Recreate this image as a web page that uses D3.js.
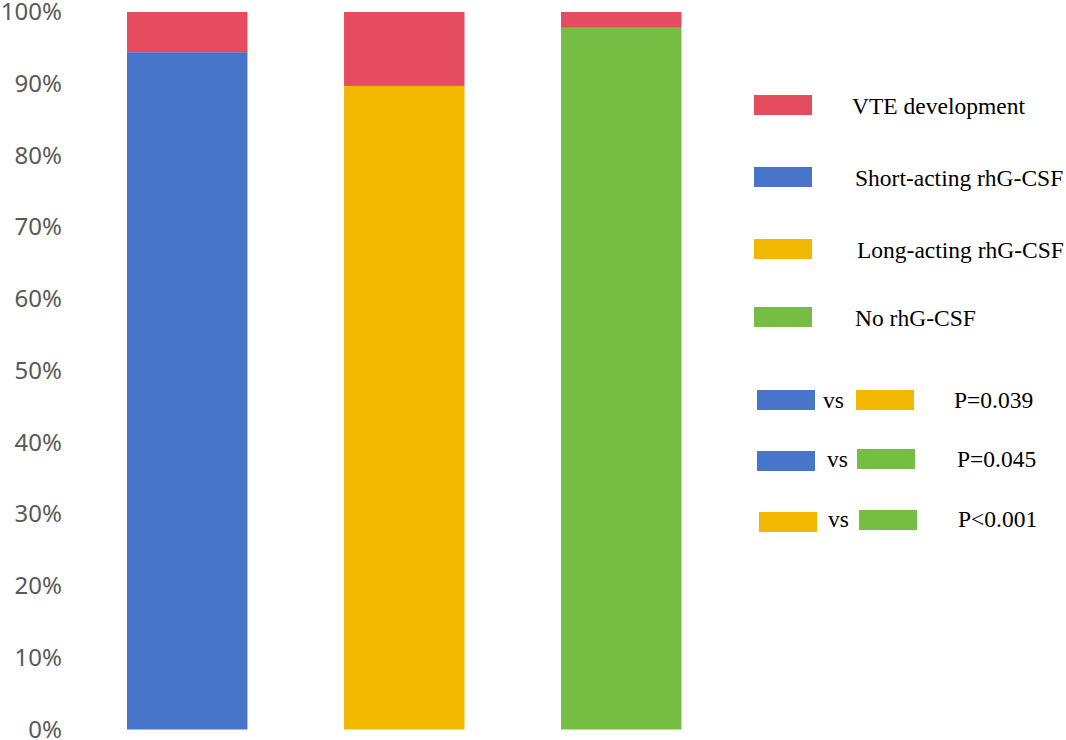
<!DOCTYPE html>
<meta charset="utf-8" />
<head>
  <script src="https://d3js.org/d3.v7.min.js"></script>
  <style>
    body { margin: 0; background: #fff; }
    svg { display: block; }
    .tick text { font-family: "Noto Sans", sans-serif; fill: #595959; }
    .legend text { font-family: "Liberation Serif", "Times New Roman", serif; fill: #000; }
  </style>
</head>
<body>
<script>

// data
var groups = ["Short-acting rhG-CSF", "Long-acting rhG-CSF", "No rhG-CSF"];
var noVte = [94.4, 89.7, 97.8];
var vte = [5.6, 10.3, 2.2];
var yTicks = [0, 10, 20, 30, 40, 50, 60, 70, 80, 90, 100];
var legendLabels = ["VTE development", "Short-acting rhG-CSF", "Long-acting rhG-CSF", "No rhG-CSF"];
var comparisons = [[0, 1], [0, 2], [1, 2]];
var pValues = ["P=0.039", "P=0.045", "P<0.001"];

var vteColor = "#E54C5F";
var groupColors = ["#4874C9", "#F2B800", "#76BD43"];

var width = 1066, height = 740;
var margin = {top: 12, left: 72, bottom: 10.5};

var svg = d3.select("body").append("svg")
    .attr("width", width)
    .attr("height", height);

var x = d3.scaleBand()
    .domain(groups)
    .range([18.5, 790])
    .paddingInner(0.445)
    .paddingOuter(0.5);

var y = d3.scaleLinear()
    .domain([0, 100])
    .range([height - margin.bottom, margin.top]);

// y axis
svg.append("g")
    .attr("transform", "translate(" + (margin.left - 4) + ",0)")
    .call(d3.axisLeft(y).tickValues(yTicks).tickSize(0).tickPadding(6)
      .tickFormat(function(d) { return d + "%"; }))
    .call(function(g) { g.select(".domain").remove(); })
    .selectAll("text")
    .style("font-size", "24px");

// stacked bars
var bars = svg.append("g");
groups.forEach(function(g, i) {
  bars.append("rect")
      .attr("x", x(g))
      .attr("width", x.bandwidth())
      .attr("y", y(noVte[i]))
      .attr("height", y(0) - y(noVte[i]))
      .attr("fill", groupColors[i]);
  bars.append("rect")
      .attr("x", x(g))
      .attr("width", x.bandwidth())
      .attr("y", y(noVte[i] + vte[i]))
      .attr("height", y(noVte[i]) - y(noVte[i] + vte[i]))
      .attr("fill", vteColor);
});

// legend
var legend = svg.append("g").attr("class", "legend");
var legendColors = [vteColor].concat(groupColors);
var legendY = [105, 177, 249, 317];
var legendTextX = [852, 855, 857, 855];
legendLabels.forEach(function(label, i) {
  legend.append("rect")
      .attr("x", 754)
      .attr("y", legendY[i] - 10)
      .attr("width", 58)
      .attr("height", 20)
      .attr("fill", legendColors[i]);
  legend.append("text")
      .attr("x", legendTextX[i])
      .attr("y", legendY[i] + 9)
      .style("font-size", "23.5px")
      .text(label);
});

// pairwise comparisons
var compRows = [
  {r1: 757, r1y: 390, vs: 823, r2: 856, r2y: 390, p: 954, base: 408},
  {r1: 757, r1y: 451, vs: 827, r2: 857, r2y: 449, p: 957, base: 467},
  {r1: 759, r1y: 512, vs: 828, r2: 859, r2y: 510, p: 958, base: 527}
];
comparisons.forEach(function(c, i) {
  var r = compRows[i];
  legend.append("rect")
      .attr("x", r.r1).attr("y", r.r1y)
      .attr("width", 58).attr("height", 20)
      .attr("fill", groupColors[c[0]]);
  legend.append("text")
      .attr("x", r.vs).attr("y", r.base)
      .style("font-size", "23.5px")
      .text("vs");
  legend.append("rect")
      .attr("x", r.r2).attr("y", r.r2y)
      .attr("width", 58).attr("height", 20)
      .attr("fill", groupColors[c[1]]);
  legend.append("text")
      .attr("x", r.p).attr("y", r.base)
      .style("font-size", "23.5px")
      .text(pValues[i]);
});

</script>
</body>
